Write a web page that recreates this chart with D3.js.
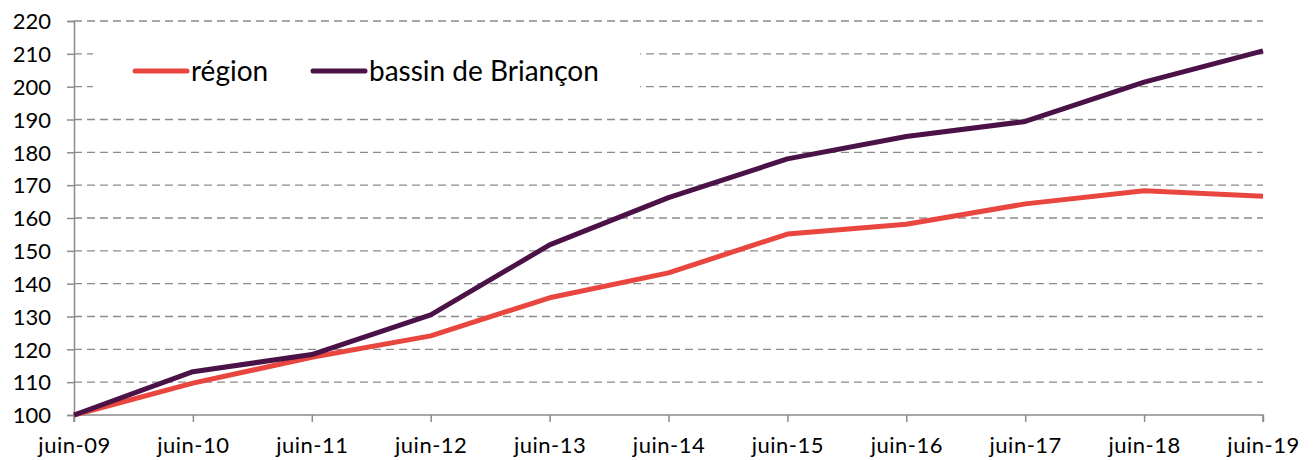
<!DOCTYPE html>
<html>
<head>
<meta charset="utf-8">
<script src="https://cdn.jsdelivr.net/npm/d3@7"></script>
<style>
  body { margin: 0; background: #fff; }
  text { font-family: Lato, "Noto Sans", sans-serif; fill: #000; }
</style>
</head>
<body>
<div id="chart"></div>
<script>
var categories = ["juin-09", "juin-10", "juin-11", "juin-12", "juin-13", "juin-14",
                  "juin-15", "juin-16", "juin-17", "juin-18", "juin-19"];
var region = [100, 109.7, 117.6, 124.1, 135.7, 143.3, 155.1, 158.1, 164.3, 168.3, 166.6];
var briancon = [100, 113.2, 118.4, 130.5, 151.8, 166.2, 178.0, 184.8, 189.4, 201.4, 210.9];
var yTicks = [100, 110, 120, 130, 140, 150, 160, 170, 180, 190, 200, 210, 220];
var seriesNames = ["région", "bassin de Briançon"];
var colors = ["#e8463e", "#4b1248"];

var width = 1313, height = 460;
var svg = d3.select("#chart").append("svg")
    .attr("width", width).attr("height", height);

var x = d3.scalePoint().domain(categories).range([74, 1263]);
var y = d3.scaleLinear().domain([100, 220]).range([415, 21]);

// grid
svg.append("g").selectAll("line")
    .data(yTicks.slice(1))
    .enter().append("line")
    .attr("x1", 74).attr("x2", 1263)
    .attr("y1", function (d) { return y(d); })
    .attr("y2", function (d) { return y(d); })
    .attr("stroke", "#8c8c8c").attr("stroke-width", 1.3)
    .attr("stroke-dasharray", "8,5");

// y axis
var yAxis = svg.append("g").attr("transform", "translate(74,0)")
    .call(d3.axisLeft(y).tickValues(yTicks).tickSize(7).tickPadding(16));
yAxis.select(".domain").attr("stroke", "#8c8c8c").attr("stroke-width", 1.5);
yAxis.selectAll(".tick line").attr("stroke", "#8c8c8c").attr("stroke-width", 1.5);
yAxis.selectAll("text").style("font-size", "22px").attr("dy", "0.35em");

// x axis
var xAxis = svg.append("g").attr("transform", "translate(0,415)")
    .call(d3.axisBottom(x).tickSize(7).tickPadding(15));
xAxis.select(".domain").attr("stroke", "#8c8c8c").attr("stroke-width", 1.5)
    .attr("d", "M74,7V0H1263V7");
xAxis.selectAll(".tick line").attr("stroke", "#8c8c8c").attr("stroke-width", 1.5);
xAxis.selectAll("text").style("font-size", "22px").style("letter-spacing", "0.5px");

// lines
var line = d3.line()
    .x(function (d, i) { return x(categories[i]); })
    .y(function (d) { return y(d); });

[region, briancon].forEach(function (s, i) {
    svg.append("path")
        .datum(s)
        .attr("fill", "none")
        .attr("stroke", colors[i])
        .attr("stroke-width", 5)
        .attr("stroke-linejoin", "round")
        .attr("d", line);
});

// legend
var legend = svg.append("g");
legend.append("rect").attr("x", 93).attr("y", 40).attr("width", 547).attr("height", 62)
    .attr("fill", "#fff");
var legendX = [135, 313];
seriesNames.forEach(function (name, i) {
    legend.append("line")
        .attr("x1", legendX[i]).attr("x2", legendX[i] + 52)
        .attr("y1", 71).attr("y2", 71)
        .attr("stroke", colors[i]).attr("stroke-width", 5)
        .attr("stroke-linecap", "round");
    legend.append("text")
        .attr("x", legendX[i] + 56).attr("y", 71).attr("dy", "0.35em")
        .style("font-size", "28px")
        .text(name);
});
</script>
</body>
</html>
